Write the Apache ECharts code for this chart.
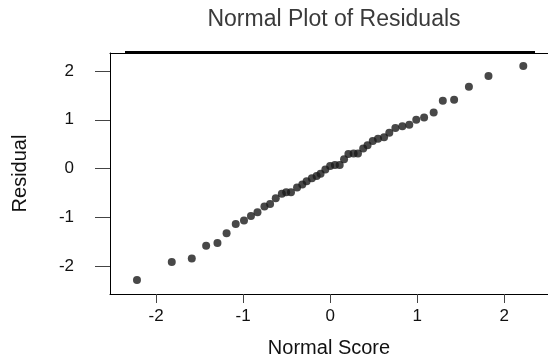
<!DOCTYPE html>
<html>
<head>
<meta charset="utf-8">
<script src="https://cdn.jsdelivr.net/npm/echarts@6/dist/echarts.min.js"></script>
<style>
html,body{margin:0;padding:0;background:#fff;}
#c{width:548px;height:364px;}
</style>
</head>
<body>
<div id="c"></div>
<script>
var normalScores = [-2.22,-1.82,-1.59,-1.425,-1.295,-1.19,-1.085,-0.99,-0.91,-0.835,-0.755,-0.69,-0.625,-0.555,-0.505,-0.45,-0.38,-0.32,-0.27,-0.21,-0.155,-0.11,-0.055,0,0.055,0.11,0.16,0.21,0.27,0.32,0.38,0.43,0.49,0.55,0.62,0.68,0.75,0.83,0.91,0.99,1.08,1.19,1.295,1.425,1.595,1.82,2.22];
var residuals = [-2.29,-1.92,-1.85,-1.585,-1.53,-1.33,-1.14,-1.07,-0.975,-0.90,-0.78,-0.73,-0.61,-0.52,-0.49,-0.49,-0.39,-0.33,-0.26,-0.20,-0.155,-0.11,-0.02,0.05,0.07,0.07,0.19,0.30,0.31,0.31,0.41,0.48,0.565,0.61,0.64,0.735,0.83,0.87,0.90,1.0,1.05,1.15,1.39,1.41,1.68,1.90,2.105];
var xTicks = [-2,-1,0,1,2];
var yTicks = [-2,-1,0,1,2];

var pts = normalScores.map(function(x,i){return [x, residuals[i]];});
var chart = echarts.init(document.getElementById('c'), null, {renderer:'canvas'});
var font = 'Liberation Sans, Arial, sans-serif';
chart.setOption({
  animation:false,
  backgroundColor:'#fff',
  title:{text:'Normal Plot of Residuals', left:329, top:3, textAlign:'center',
    textStyle:{fontFamily:font, fontSize:23, fontWeight:'normal', color:'#3a3a3a'}},
  grid:{left:110, top:53, right:0, height:241, show:false, containLabel:false},
  xAxis:[{type:'value', min:-2.53, max:2.504,
    name:'Normal Score', nameLocation:'middle', nameGap:44,
    nameTextStyle:{fontFamily:font, fontSize:20, color:'#111'},
    splitLine:{show:false},
    axisLine:{show:true, onZero:false, lineStyle:{color:'#000', width:1}},
    axisTick:{show:true, length:9, customValues:xTicks, lineStyle:{color:'#444'}},
    axisLabel:{customValues:xTicks, margin:14, fontFamily:font, fontSize:17, color:'#111'}},
   {type:'value', position:'top', min:-2.53, max:2.504,
    splitLine:{show:false}, axisTick:{show:false}, axisLabel:{show:false},
    axisLine:{show:true, onZero:false, lineStyle:{color:'#000', width:1}}}],
  yAxis:{type:'value', min:-2.577, max:2.372,
    name:'Residual', nameLocation:'middle', nameGap:80, nameRotate:90,
    nameTextStyle:{fontFamily:font, fontSize:20, color:'#111'},
    splitLine:{show:false},
    axisLine:{show:true, onZero:false, lineStyle:{color:'#000', width:1}},
    axisTick:{show:true, length:15, customValues:yTicks, lineStyle:{color:'#444'}},
    axisLabel:{customValues:yTicks, margin:36, fontFamily:font, fontSize:17, color:'#111'}},
  graphic:[{type:'line', shape:{x1:125,y1:52,x2:535,y2:52}, style:{stroke:'#000', lineWidth:2}}],
  series:[{type:'scatter', data:pts, symbol:'circle', symbolSize:8,
    itemStyle:{color:'#1a1a1a'}}]
});
</script>
</body>
</html>
